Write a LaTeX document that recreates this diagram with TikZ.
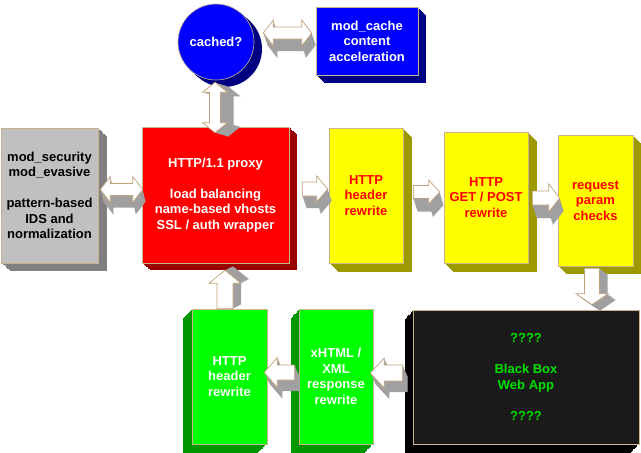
\documentclass[tikz,border=0pt]{standalone}
\usepackage{fontspec}
\setmainfont{Liberation Sans}
\usetikzlibrary{shadows,calc}
\definecolor{edge}{HTML}{C8B48C}
\definecolor{aedge}{HTML}{BFA27A}
\definecolor{aside}{HTML}{A0A0A0}
\definecolor{bluef}{HTML}{0000FF}\definecolor{blued}{HTML}{000080}
\definecolor{redf}{HTML}{FF0000}\definecolor{redd}{HTML}{990000}
\definecolor{grayf}{HTML}{C0C0C0}\definecolor{grayd}{HTML}{808080}
\definecolor{yelf}{HTML}{FFFF00}\definecolor{yeld}{HTML}{9C9A00}
\definecolor{grnf}{HTML}{00FF00}\definecolor{grnd}{HTML}{009600}
\definecolor{blkf}{HTML}{1A1A1A}\definecolor{blkd}{HTML}{000000}
\definecolor{grntext}{HTML}{00E000}
\tikzset{
  dstep/.style n args={3}{general shadow={fill=#1,shadow xshift=#2,shadow yshift=#3}},
  depth/.style n args={3}{dstep={#1}{#2}{#3},dstep={#1}{#2*0.9}{#3*0.9},
    dstep={#1}{#2*0.8}{#3*0.8},dstep={#1}{#2*0.7}{#3*0.7},dstep={#1}{#2*0.6}{#3*0.6},
    dstep={#1}{#2*0.5}{#3*0.5},dstep={#1}{#2*0.4}{#3*0.4},dstep={#1}{#2*0.3}{#3*0.3},
    dstep={#1}{#2*0.2}{#3*0.2},dstep={#1}{#2*0.1}{#3*0.1}},
  box/.style={draw=edge,line width=0.6pt,inner sep=0pt,align=center,
    font=\bfseries\fontsize{13}{15.5}\selectfont},
  barrow/.style={fill=white,draw=aedge,line width=0.7pt,line join=miter},
}
% right arrow: start(tail), end(tip), w, h, k, depth
\newcommand\arrowR[6]{\filldraw[barrow,#6] let \p1=(#1), \p2=(#2) in
  (\x1,\y1+#3) -- (\x2-#5,\y1+#3) -- (\x2-#5,\y1+#4) -- (\x2,\y1) -- (\x2-#5,\y1-#4)
  -- (\x2-#5,\y1-#3) -- (\x1,\y1-#3) -- cycle;}
\newcommand\arrowL[6]{\filldraw[barrow,#6] let \p1=(#1), \p2=(#2) in
  (\x1,\y1+#3) -- (\x2+#5,\y1+#3) -- (\x2+#5,\y1+#4) -- (\x2,\y1) -- (\x2+#5,\y1-#4)
  -- (\x2+#5,\y1-#3) -- (\x1,\y1-#3) -- cycle;}
\newcommand\arrowU[6]{\filldraw[barrow,#6] let \p1=(#1), \p2=(#2) in
  (\x1-#3,\y1) -- (\x1-#3,\y2-#5) -- (\x1-#4,\y2-#5) -- (\x1,\y2) -- (\x1+#4,\y2-#5)
  -- (\x1+#3,\y2-#5) -- (\x1+#3,\y1) -- cycle;}
\newcommand\arrowD[6]{\filldraw[barrow,#6] let \p1=(#1), \p2=(#2) in
  (\x1-#3,\y1) -- (\x1-#3,\y2+#5) -- (\x1-#4,\y2+#5) -- (\x1,\y2) -- (\x1+#4,\y2+#5)
  -- (\x1+#3,\y2+#5) -- (\x1+#3,\y1) -- cycle;}
\newcommand\arrowHH[6]{\filldraw[barrow,#6] let \p1=(#1), \p2=(#2) in
  (\x1,\y1) -- (\x1+#5,\y1+#4) -- (\x1+#5,\y1+#3) -- (\x2-#5,\y1+#3) -- (\x2-#5,\y1+#4)
  -- (\x2,\y1) -- (\x2-#5,\y1-#4) -- (\x2-#5,\y1-#3) -- (\x1+#5,\y1-#3) -- (\x1+#5,\y1-#4) -- cycle;}
\newcommand\arrowVV[6]{\filldraw[barrow,#6] let \p1=(#1), \p2=(#2) in
  (\x1,\y1) -- (\x1+#4,\y1-#5) -- (\x1+#3,\y1-#5) -- (\x1+#3,\y2+#5) -- (\x1+#4,\y2+#5)
  -- (\x1,\y2) -- (\x1-#4,\y2+#5) -- (\x1-#3,\y2+#5) -- (\x1-#3,\y1-#5) -- (\x1-#4,\y1-#5) -- cycle;}
\begin{document}
\begin{tikzpicture}[x=1pt,y=-1pt]
\useasboundingbox[fill=white] (0,0) rectangle (641,453);
% boxes
\node[box,circle,fill=bluef,text=white,depth={blued}{8pt}{-7pt},minimum size=76pt] (cache) at (216,42) {cached?};
\node[box,fill=bluef,text=white,depth={blued}{8pt}{-8pt},minimum width=102pt,minimum height=68pt] (modc) at (367,41) {mod\_cache\\content\\acceleration};
\node[box,fill=grayf,text=black,depth={grayd}{9pt}{-8pt},minimum width=97pt,minimum height=135pt] (sec) at (49.5,195.5) {mod\_security\\mod\_evasive\\[15.5pt]pattern-based\\IDS and\\normalization};
\node[box,fill=redf,text=white,depth={redd}{8pt}{-7pt},minimum width=147pt,minimum height=136pt] (red) at (215.5,195) {HTTP/1.1 proxy\\[15.5pt]load balancing\\name-based vhosts\\SSL / auth wrapper};
\node[box,fill=yelf,text=redf,depth={yeld}{9pt}{-9pt},minimum width=74pt,minimum height=135pt] (y1) at (366,195.5) {HTTP\\header\\rewrite};
\node[box,fill=yelf,text=redf,depth={yeld}{9pt}{-9pt},minimum width=84pt,minimum height=131pt] (y2) at (486,197.5) {HTTP\\GET / POST\\rewrite};
\node[box,fill=yelf,text=redf,depth={yeld}{8pt}{-8pt},minimum width=75pt,minimum height=131pt] (y3) at (595.5,200.5) {request\\param\\checks};
\node[box,fill=grnf,text=white,depth={grnd}{-9pt}{-9pt},minimum width=75pt,minimum height=135pt] (g1) at (229.5,376.5) {HTTP\\header\\rewrite};
\node[box,fill=grnf,text=white,depth={grnd}{-8pt}{-9pt},minimum width=74pt,minimum height=135pt] (g2) at (336,376.5) {xHTML /\\XML\\response\\rewrite};
\node[box,fill=blkf,text=grntext,depth={blkd}{-8pt}{-9pt},minimum width=226pt,minimum height=134pt] (black) at (526,377) {????\\[15.5pt]Black Box\\Web App\\[15.5pt]????};
% block arrows
\arrowVV{$(cache.south)+(-1,2)$}{$(red.north)+(-0.5,6)$}{5.5pt}{12.5pt}{10pt}{depth={aside}{13pt}{-4pt}}
\arrowHH{$(cache.east)+(9,-9)$}{$(modc.west)+(-4,-8)$}{6pt}{13pt}{10pt}{depth={aside}{4pt}{-12pt}}
\arrowHH{$(sec.east)+(2,-6)$}{$(red.west)+(1,-6)$}{6pt}{13pt}{10pt}{depth={aside}{3pt}{-12pt}}
\arrowR{$(red.east)+(13,-6)$}{$(y1.west)+(-1,0)$}{7pt}{13pt}{11pt}{depth={aside}{4pt}{-12pt}}
\arrowR{$(y1.east)+(10,-3.5)$}{$(y2.west)+(-4,0)$}{6.5pt}{12pt}{11pt}{depth={aside}{4pt}{-13pt}}
\arrowR{$(y2.east)+(4,0.5)$}{$(y3.west)+(2,0)$}{7pt}{14pt}{11pt}{depth={aside}{4pt}{-13pt}}
\arrowD{$(y3.south)+(-3.5,2)$}{$(black.north)+(0,-5)$}{7.5pt}{16pt}{11pt}{depth={aside}{8pt}{-6pt}}
\arrowU{$(g1.north)+(-4.5,0)$}{$(red.south)+(0,7)$}{8pt}{16pt}{13pt}{depth={aside}{8pt}{4pt}}
\arrowL{$(g2.west)+(-4,-4)$}{$(g1.east)+(-3,0)$}{7.5pt}{15pt}{13pt}{depth={aside}{5pt}{-11pt}}
\arrowL{$(black.west)+(-10,-4)$}{$(g2.east)+(-3,0)$}{8pt}{15pt}{14pt}{depth={aside}{5pt}{-11pt}}
\end{tikzpicture}
\end{document}
